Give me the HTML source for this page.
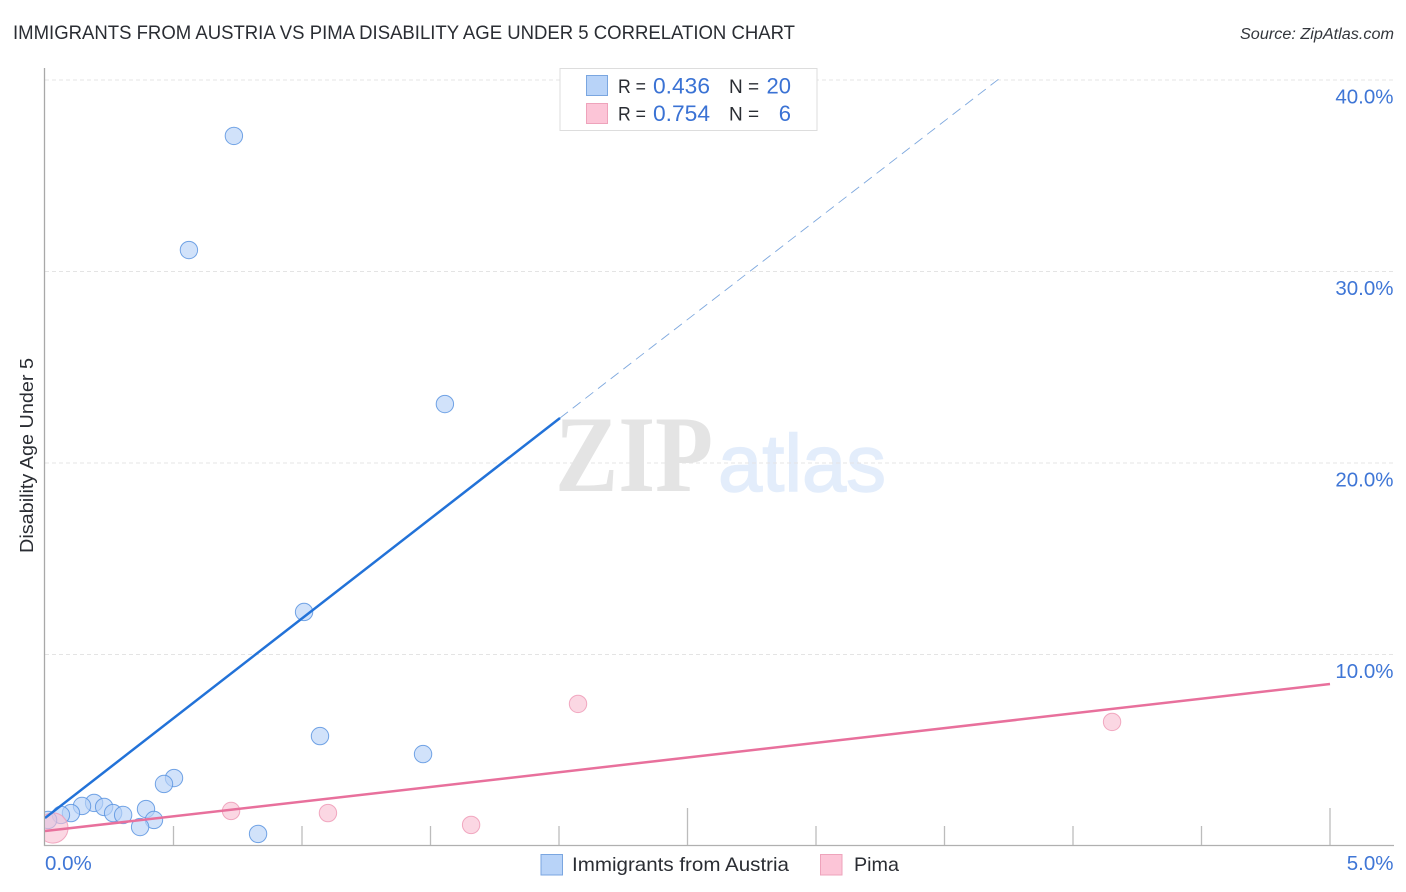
<!DOCTYPE html>
<html lang="en">
<head>
<meta charset="utf-8">
<title>Immigrants from Austria vs Pima Disability Age Under 5 Correlation Chart</title>
<style>
html,body{margin:0;padding:0;background:#fff;width:1406px;height:892px;overflow:hidden}
svg{display:block;font-family:"Liberation Sans",sans-serif}
</style>
</head>
<body>
<svg id="chart" xmlns="http://www.w3.org/2000/svg" width="1406" height="892" viewBox="0 0 1406 892">
  <defs>
    <clipPath id="plot-clip"><rect x="45" y="68" width="1349" height="778"/></clipPath>
  </defs>
  <rect x="0" y="0" width="1406" height="892" fill="#ffffff"/>
  <text x="13" y="39" font-size="19.5" fill="#2a2d33" textLength="782" lengthAdjust="spacingAndGlyphs">IMMIGRANTS FROM AUSTRIA VS PIMA DISABILITY AGE UNDER 5 CORRELATION CHART</text>
  <text x="1394" y="39" font-size="15.5" font-style="italic" fill="#33363c" text-anchor="end" textLength="154" lengthAdjust="spacingAndGlyphs">Source: ZipAtlas.com</text>
  <g>
    <text x="555" y="491" font-family="'Liberation Serif',serif" font-weight="bold" font-size="109" fill="#e4e4e4" textLength="158" lengthAdjust="spacingAndGlyphs">ZIP</text>
    <text x="718" y="491" font-size="81" fill="#e3edfb" stroke="#e3edfb" stroke-width="1.5" textLength="168" lengthAdjust="spacingAndGlyphs">atlas</text>
  </g>
  <g id="grid"></g>
  <g id="axes"></g>
  <g id="marks" clip-path="url(#plot-clip)"></g>
  <g id="ylabels"></g>
  <g id="xlabels"></g>
  <text transform="translate(33,455.5) rotate(-90)" font-size="18" fill="#2a2d33" text-anchor="middle" textLength="195" lengthAdjust="spacingAndGlyphs">Disability Age Under 5</text>

  <g>
    <rect x="560" y="68.5" width="257" height="62" fill="#ffffff" stroke="#dddddd" stroke-width="1"/>
    <rect x="586.5" y="75.5" width="21" height="20" fill="#b8d3f8" stroke="#7aa6e0" stroke-width="1"/>
    <rect x="586.5" y="103.5" width="21" height="20" fill="#fcc5d7" stroke="#eea3bb" stroke-width="1"/>
    <text x="618" y="93" font-size="19" fill="#2a2d33" textLength="28" lengthAdjust="spacingAndGlyphs">R =</text>
    <text x="653" y="93.5" font-size="22" fill="#3a72d4" textLength="57" lengthAdjust="spacingAndGlyphs">0.436</text>
    <text x="729" y="93" font-size="19" fill="#2a2d33">N =</text>
    <text x="791" y="93.5" font-size="22" fill="#3a72d4" text-anchor="end">20</text>
    <text x="618" y="120.5" font-size="19" fill="#2a2d33" textLength="28" lengthAdjust="spacingAndGlyphs">R =</text>
    <text x="653" y="121" font-size="22" fill="#3a72d4" textLength="57" lengthAdjust="spacingAndGlyphs">0.754</text>
    <text x="729" y="120.5" font-size="19" fill="#2a2d33">N =</text>
    <text x="791" y="121" font-size="22" fill="#3a72d4" text-anchor="end">6</text>
  </g>

  <g>
    <rect x="541" y="854.5" width="21.5" height="20.5" fill="#b8d3f8" stroke="#7aa6e0" stroke-width="1"/>
    <text x="572" y="871" font-size="19.5" fill="#2a2d33" textLength="217" lengthAdjust="spacingAndGlyphs">Immigrants from Austria</text>
    <rect x="820.5" y="854.5" width="21.5" height="20.5" fill="#fcc5d7" stroke="#eea3bb" stroke-width="1"/>
    <text x="854" y="871" font-size="19.5" fill="#2a2d33" textLength="45" lengthAdjust="spacingAndGlyphs">Pima</text>
  </g>
</svg>
<script>
var yTickValues = [10, 20, 30, 40];
var yTickLabels = ["10.0%", "20.0%", "30.0%", "40.0%"];
var xTickValues = [0.5, 1, 1.5, 2, 2.5, 3, 3.5, 4, 4.5, 5];
var xMajorTicks = [2.5, 5];
var xEndValues = [0, 5];
var xEndLabels = ["0.0%", "5.0%"];

var austriaX = [0.735, 0.560, 1.556, 1.008, 1.070, 1.471, 0.502, 0.463, 0.191, 0.230, 0.144, 0.101, 0.265, 0.304, 0.393, 0.424, 0.370, 0.829, 0.062, 0.012];
var austriaY = [37.08, 31.12, 23.08, 12.22, 5.74, 4.80, 3.55, 3.24, 2.25, 2.04, 2.09, 1.72, 1.72, 1.62, 1.93, 1.36, 0.99, 0.63, 1.62, 1.36];
var pimaX = [0.031, 0.724, 1.101, 1.658, 2.074, 4.152];
var pimaY = [0.94, 1.83, 1.72, 1.10, 7.42, 6.48];
var pimaWeight = [3, 1, 1, 1, 1, 1];

var austriaTrendX = [0, 2.004];
var austriaTrendY = [1.46, 22.35];
var austriaProjectionX = [2.004, 3.716];
var austriaProjectionY = [22.35, 40.1];
var pimaTrendX = [0, 5];
var pimaTrendY = [0.78, 8.46];

function xPos(v) { return 45 + v * 257; }
function yPos(v) { return 846 - v * 19.15; }

var NS = 'http://www.w3.org/2000/svg';
function make(parent, tag, attrs) {
  var el = document.createElementNS(NS, tag);
  for (var k in attrs) { el.setAttribute(k, attrs[k]); }
  parent.appendChild(el);
  return el;
}

var grid = document.getElementById('grid');
var axes = document.getElementById('axes');
var marks = document.getElementById('marks');
var ylabels = document.getElementById('ylabels');
var xlabels = document.getElementById('xlabels');

yTickValues.forEach(function (v, i) {
  var gl = make(grid, 'line', { x1: 45, x2: 1394, y1: yPos(v), y2: yPos(v), stroke: '#e4e4e4', 'stroke-width': 1, 'stroke-dasharray': '4 3' });
  
  
  var tx = make(ylabels, 'text', { x: 1393.5, y: yPos(v) + 23.5, 'font-size': 20.5, fill: '#3f76d6', 'text-anchor': 'end' });
  tx.textContent = yTickLabels[i];
  
  
});

var yAxis = make(axes, 'line', { x1: 44.5, x2: 44.5, y1: 68, y2: 846, stroke: '#a8a8a8', 'stroke-width': 1.3 });


var xAxis = make(axes, 'line', { x1: 44, x2: 1394, y1: 845.5, y2: 845.5, stroke: '#b0b0b0', 'stroke-width': 1.3 });



xTickValues.forEach(function (v) {
  var top = xMajorTicks.indexOf(v) >= 0 ? 808 : 826;
  var t = make(axes, 'line', { x1: xPos(v), x2: xPos(v), y1: top, y2: 845, stroke: '#bcbcbc', 'stroke-width': 1.3 });
  
  
});

xEndValues.forEach(function (v, i) {
  var anchor = i === 0 ? 'start' : 'end';
  var px = i === 0 ? xPos(v) : 1393.5;
  var tx = make(xlabels, 'text', { x: px, y: 870, 'font-size': 20.5, fill: '#3f76d6', 'text-anchor': anchor });
  tx.textContent = xEndLabels[i];
  
  
});

austriaX.forEach(function (v, i) {
  var c = make(marks, 'circle', { cx: xPos(v), cy: yPos(austriaY[i]), r: 8.7, fill: '#b8d3f8', 'fill-opacity': 0.65, stroke: '#5a94e0', 'stroke-opacity': 0.85, 'stroke-width': 1 });
  
  
});

pimaX.forEach(function (v, i) {
  var c = make(marks, 'circle', { cx: xPos(v), cy: yPos(pimaY[i]), r: 8.7 * Math.sqrt(pimaWeight[i]), fill: '#f9bfd2', 'fill-opacity': 0.62, stroke: '#f0a0ba', 'stroke-opacity': 0.9, 'stroke-width': 1 });
  
  
});

var projection = make(marks, 'line', { x1: xPos(austriaProjectionX[0]), y1: yPos(austriaProjectionY[0]), x2: xPos(austriaProjectionX[1]), y2: yPos(austriaProjectionY[1]), stroke: '#7ea8de', 'stroke-width': 0.9, 'stroke-dasharray': '10 6' });



var austriaLine = make(marks, 'line', { x1: xPos(austriaTrendX[0]), y1: yPos(austriaTrendY[0]), x2: xPos(austriaTrendX[1]), y2: yPos(austriaTrendY[1]), stroke: '#2272d8', 'stroke-width': 2.5 });



var pimaLine = make(marks, 'line', { x1: xPos(pimaTrendX[0]), y1: yPos(pimaTrendY[0]), x2: xPos(pimaTrendX[1]), y2: yPos(pimaTrendY[1]), stroke: '#e8709c', 'stroke-width': 2.5 });


</script>
</body>
</html>
